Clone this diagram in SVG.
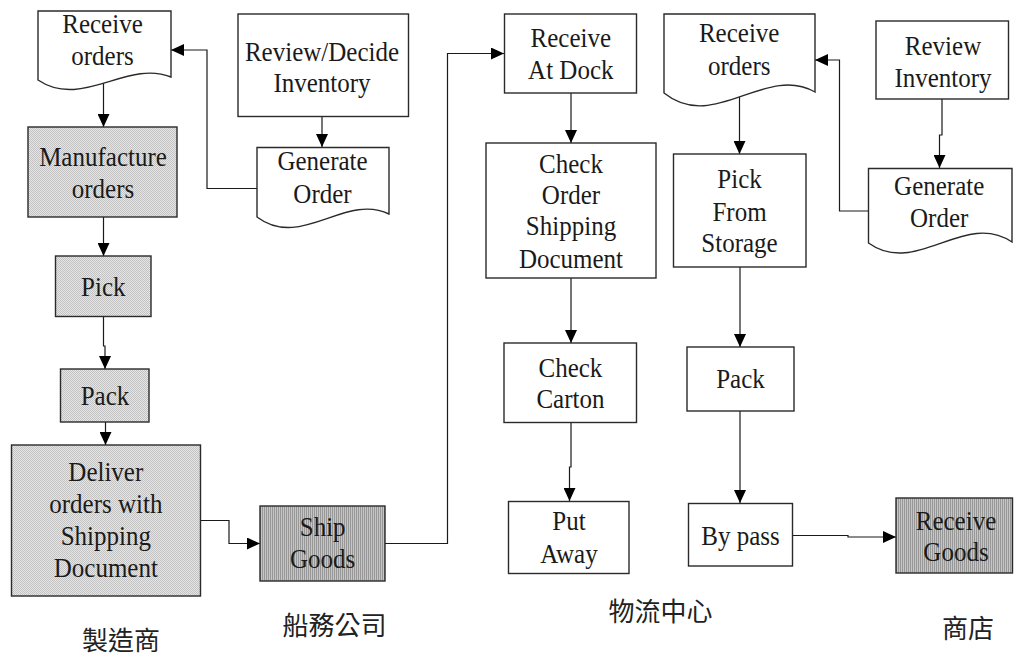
<svg xmlns="http://www.w3.org/2000/svg" width="1015" height="657" viewBox="0 0 1015 657">
  <defs>
    <!-- fine dot texture for manufacturer steps -->
    <pattern id="dots" width="2" height="2" patternUnits="userSpaceOnUse">
      <rect width="2" height="2" fill="#e6e6e6"/>
      <rect width="1" height="1" fill="#c2c2c2"/>
      <rect x="1" y="1" width="1" height="1" fill="#c2c2c2"/>
    </pattern>
    <!-- vertical stripe texture for shipping / receiving goods -->
    <pattern id="stripes" width="2" height="4" patternUnits="userSpaceOnUse">
      <rect width="2" height="4" fill="#c6c6c6"/>
      <rect width="1" height="4" fill="#979797"/>
    </pattern>
    <marker id="arrow" markerUnits="userSpaceOnUse" markerWidth="13" markerHeight="12" refX="13" refY="6" orient="auto">
      <path d="M0,0 L13,6 L0,12 Z" fill="#000"/>
    </marker>
  </defs>
  <style>
    .box { fill: #fff; stroke: #2a2a2a; stroke-width: 1.4; }
    .dot { fill: url(#dots); }
    .str { fill: url(#stripes); }
    .con { fill: none; stroke: #1a1a1a; stroke-width: 1.2; marker-end: url(#arrow); }
    .t { font-family: "Liberation Serif", "Times New Roman", serif; font-size: 27px; fill: #1a1a1a; text-anchor: middle; }
    .zh { font-family: "Noto Sans CJK TC", "Noto Sans CJK SC", sans-serif; font-size: 26px; fill: #222; text-anchor: middle; }
  </style>

  <rect width="1015" height="657" fill="#fff"/>

  <!-- connectors -->
  <g id="connectors">
    <path class="con" d="M322,117 L322,147"/>
    <path class="con" d="M257,188.5 L207,188.5 L207,50 L171,50"/>
    <path class="con" d="M103.5,79 L103.5,127"/>
    <path class="con" d="M103.5,217 L103.5,256"/>
    <path class="con" d="M103.5,317 L103.5,346 L105,346 L105,369"/>
    <path class="con" d="M105.5,422 L105.5,445"/>
    <path class="con" d="M200,520.5 L229,520.5 L229,543.5 L260,543.5"/>
    <path class="con" d="M385,543.5 L447.5,543.5 L447.5,53.5 L504,53.5"/>
    <path class="con" d="M571,93 L571,143"/>
    <path class="con" d="M571,278 L571,343"/>
    <path class="con" d="M571,422 L571,467 L569.5,467 L569.5,501"/>
    <path class="con" d="M739.5,92 L739.5,154"/>
    <path class="con" d="M740,267 L740,347"/>
    <path class="con" d="M740,411 L740,503"/>
    <path class="con" d="M792,535.5 L848,535.5 L848,537 L896,537"/>
    <path class="con" d="M942,99 L942,135 L939.5,135 L939.5,168"/>
    <path class="con" d="M868,211 L839.5,211 L839.5,60 L815,60"/>
  </g>

  <!-- manufacturer column -->
  <g id="mfr-receive-orders">
    <path class="box" d="M38,11 L171,11 L171,77 C126.7,59.2 82.3,109.7 38,80 Z"/>
    <g transform="translate(102.5 0) scale(0.926 1)">
      <text class="t" x="0" y="33">Receive</text>
      <text class="t" x="0" y="65">orders</text>
    </g>
  </g>
  <g id="mfr-review-decide">
    <rect class="box" x="238" y="14" width="170.5" height="102.5"/>
    <g transform="translate(322 0) scale(0.926 1)">
      <text class="t" x="0" y="61">Review/Decide</text>
      <text class="t" x="0" y="92">Inventory</text>
    </g>
  </g>
  <g id="mfr-generate-order">
    <path class="box" d="M257,147.5 L389,147.5 L389,214 C345,192.7 301,250.2 257,217 Z"/>
    <g transform="translate(322.5 0) scale(0.926 1)">
      <text class="t" x="0" y="170">Generate</text>
      <text class="t" x="0" y="203">Order</text>
    </g>
  </g>
  <g id="mfr-manufacture">
    <rect class="box dot" x="28" y="127" width="149" height="90"/>
    <g transform="translate(103 0) scale(0.926 1)">
      <text class="t" x="0" y="166.5">Manufacture</text>
      <text class="t" x="0" y="198.5">orders</text>
    </g>
  </g>
  <g id="mfr-pick">
    <rect class="box dot" x="55.5" y="256" width="95.5" height="60.5"/>
    <g transform="translate(103.3 0) scale(0.926 1)">
      <text class="t" x="0" y="296">Pick</text>
    </g>
  </g>
  <g id="mfr-pack">
    <rect class="box dot" x="60.5" y="369" width="88.5" height="53"/>
    <g transform="translate(105 0) scale(0.926 1)">
      <text class="t" x="0" y="405">Pack</text>
    </g>
  </g>
  <g id="mfr-deliver">
    <rect class="box dot" x="11.5" y="445" width="189" height="151"/>
    <g transform="translate(105.8 0) scale(0.926 1)">
      <text class="t" x="0" y="481.5">Deliver</text>
      <text class="t" x="0" y="513.5">orders with</text>
      <text class="t" x="0" y="545">Shipping</text>
      <text class="t" x="0" y="577">Document</text>
    </g>
  </g>

  <!-- shipping company -->
  <g id="ship-goods">
    <rect class="box str" x="260" y="506" width="125" height="75"/>
    <g transform="translate(322.7 0) scale(0.926 1)">
      <text class="t" x="0" y="536.5">Ship</text>
      <text class="t" x="0" y="568">Goods</text>
    </g>
  </g>

  <!-- distribution centre -->
  <g id="dc-receive-dock">
    <rect class="box" x="504.5" y="14" width="132" height="79"/>
    <g transform="translate(570.8 0) scale(0.926 1)">
      <text class="t" x="0" y="47.3">Receive</text>
      <text class="t" x="0" y="79.3">At Dock</text>
    </g>
  </g>
  <g id="dc-check-order">
    <rect class="box" x="486" y="143" width="170" height="135"/>
    <g transform="translate(571 0) scale(0.926 1)">
      <text class="t" x="0" y="172.7">Check</text>
      <text class="t" x="0" y="204">Order</text>
      <text class="t" x="0" y="235">Shipping</text>
      <text class="t" x="0" y="268.3">Document</text>
    </g>
  </g>
  <g id="dc-check-carton">
    <rect class="box" x="504" y="343" width="132.5" height="79.5"/>
    <g transform="translate(570.4 0) scale(0.926 1)">
      <text class="t" x="0" y="376.7">Check</text>
      <text class="t" x="0" y="408.3">Carton</text>
    </g>
  </g>
  <g id="dc-put-away">
    <rect class="box" x="508.5" y="501.5" width="120.5" height="72"/>
    <g transform="translate(569 0) scale(0.926 1)">
      <text class="t" x="0" y="530">Put</text>
      <text class="t" x="0" y="563.3">Away</text>
    </g>
  </g>
  <g id="dc-receive-orders">
    <path class="box" d="M664,14 L815,14 L815,92 C764.7,63.7 714.3,133.3 664,93 Z"/>
    <g transform="translate(739.2 0) scale(0.926 1)">
      <text class="t" x="0" y="41.7">Receive</text>
      <text class="t" x="0" y="75">orders</text>
    </g>
  </g>
  <g id="dc-pick-storage">
    <rect class="box" x="673.5" y="154" width="132.5" height="113"/>
    <g transform="translate(739.5 0) scale(0.926 1)">
      <text class="t" x="0" y="188.3">Pick</text>
      <text class="t" x="0" y="220.7">From</text>
      <text class="t" x="0" y="251.7">Storage</text>
    </g>
  </g>
  <g id="dc-pack">
    <rect class="box" x="687" y="347" width="107" height="64"/>
    <g transform="translate(740.5 0) scale(0.926 1)">
      <text class="t" x="0" y="388.3">Pack</text>
    </g>
  </g>
  <g id="dc-bypass">
    <rect class="box" x="688.5" y="503.5" width="104" height="62.5"/>
    <g transform="translate(740.5 0) scale(0.926 1)">
      <text class="t" x="0" y="545">By pass</text>
    </g>
  </g>

  <!-- store -->
  <g id="store-review-inventory">
    <rect class="box" x="876" y="21" width="132.5" height="78"/>
    <g transform="translate(943 0) scale(0.926 1)">
      <text class="t" x="0" y="55">Review</text>
      <text class="t" x="0" y="87.3">Inventory</text>
    </g>
  </g>
  <g id="store-generate-order">
    <path class="box" d="M868.5,168.5 L1012,168.5 L1012,242 C964.2,210 916.3,277.4 868.5,243 Z"/>
    <g transform="translate(939.2 0) scale(0.926 1)">
      <text class="t" x="0" y="195">Generate</text>
      <text class="t" x="0" y="226.7">Order</text>
    </g>
  </g>
  <g id="store-receive-goods">
    <rect class="box str" x="896" y="498" width="116.5" height="75"/>
    <g transform="translate(956 0) scale(0.926 1)">
      <text class="t" x="0" y="530">Receive</text>
      <text class="t" x="0" y="561">Goods</text>
    </g>
  </g>

  <!-- column captions -->
  <g id="captions">
    <text class="zh" x="121" y="650">製造商</text>
    <text class="zh" x="334.5" y="634.5">船務公司</text>
    <text class="zh" x="660.5" y="621">物流中心</text>
    <text class="zh" x="968" y="638">商店</text>
  </g>
</svg>
